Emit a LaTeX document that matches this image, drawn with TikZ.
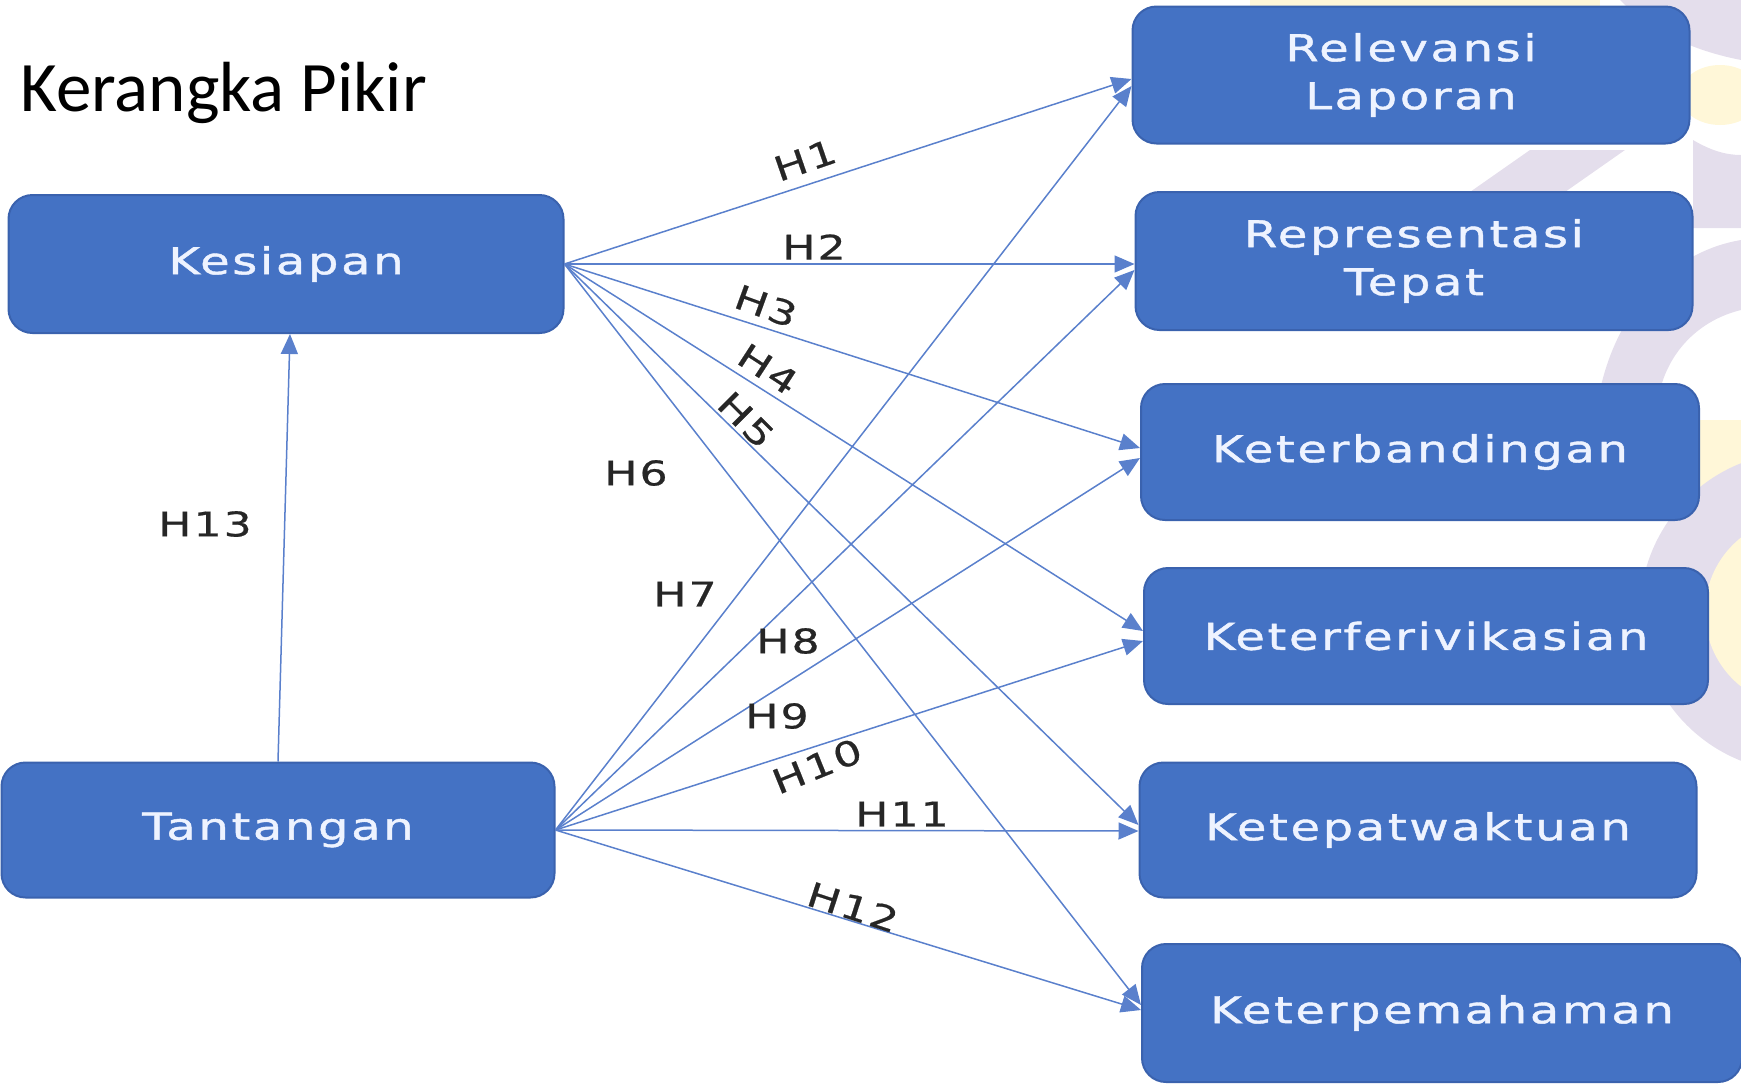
\documentclass[tikz,border=0pt]{standalone}
\usepackage{fontspec}
\usetikzlibrary{arrows.meta,calc}
\newfontfamily\boxfont{DejaVu Sans}[FakeStretch=1.3,LetterSpace=7,FakeBold=1.2]
\newfontfamily\labfont{DejaVu Sans}[FakeStretch=1.3,LetterSpace=6,FakeBold=0.6]
\newfontfamily\titlefont{Carlito}
\definecolor{boxblue}{HTML}{4472C4}
\definecolor{boxedge}{HTML}{3A62AE}
\definecolor{linkblue}{HTML}{5A80CC}
\definecolor{boxtext}{HTML}{EEF3FF}
\definecolor{wmpurple}{HTML}{E4DEEC}
\definecolor{wmyellow}{HTML}{FFF7D8}
\definecolor{labelgray}{HTML}{262626}
\begin{document}
\begin{tikzpicture}[x=0.5pt,y=-0.5pt,
  varbox/.style={draw=boxedge, line width=1pt, fill=boxblue, rounded corners=12pt,
    text=boxtext, font=\boxfont\fontsize{18.5}{24}\selectfont, align=center, inner sep=0pt},
  link/.style={draw=linkblue, line width=0.75pt, -{Triangle[length=10pt,width=8.5pt]}},
  hlab/.style={font=\labfont\fontsize{17}{20}\selectfont, text=labelgray, inner sep=1pt}]
\useasboundingbox (0,0) rectangle (1741,1083);
% faint watermark
\fill[wmyellow] (1250,0) rectangle (1600,10);
\fill[wmpurple] (1620,0) -- (1741,0) -- (1741,60) .. controls (1690,50) and (1650,30) .. (1620,0) -- cycle;
\fill[wmyellow] (1720,95) ellipse (40 and 30);
\fill[wmpurple] (1693,140) .. controls (1710,150) and (1725,155) .. (1741,155) -- (1741,228) -- (1693,228) -- cycle;
\fill[wmpurple] (1470,192) -- (1530,150) -- (1625,150) -- (1565,192) -- cycle;
\fill[wmpurple] (1600,390) .. controls (1620,300) and (1680,250) .. (1741,240) -- (1741,310) .. controls (1700,320) and (1670,350) .. (1660,390) -- cycle;
\fill[wmyellow] (1699,420) rectangle (1741,520);
\fill[wmpurple] (1800,612) circle (160);
\fill[wmyellow] (1800,612) circle (95);
% title
\node[font=\titlefont\fontsize{35.5}{40}\selectfont, anchor=base west, inner sep=0pt] (title) at (20,111) {Kerangka Pikir};
% boxes
\node[varbox, minimum width=277.5pt, minimum height=69pt] (kes) at (286,264) {Kesiapan};
\node[varbox, minimum width=276.5pt, minimum height=67.5pt] (tan) at (278,830) {Tantangan};
\node[varbox, minimum width=278.5pt, minimum height=68.5pt] (rel) at (1411,75) {Relevansi\\Laporan};
\node[varbox, minimum width=278.5pt, minimum height=69pt] (rep) at (1414,261) {Representasi\\Tepat};
\node[varbox, minimum width=279pt, minimum height=68pt] (kb) at (1420,452) {Keterbandingan};
\node[varbox, minimum width=282pt, minimum height=68pt] (kf) at (1426,636) {Keterferivikasian};
\node[varbox, minimum width=278.5pt, minimum height=67.5pt] (kw) at (1418,830) {Ketepatwaktuan};
\node[varbox, minimum width=300pt, minimum height=69pt] (kp) at (1442,1013) {Keterpemahaman};
% links from Kesiapan
\draw[link] (kes.east) -- ($(rel.west)+(0,4)$);
\draw[link] (kes.east) -- ($(rep.west)+(0,3)$);
\draw[link] (kes.east) -- ($(kb.west)+(0,-4)$);
\draw[link] (kes.east) -- ($(kf.west)+(0,-5)$);
\draw[link] (kes.east) -- ($(kw.west)+(0,-5)$);
\draw[link] (kes.east) -- ($(kp.west)+(0,-8)$);
% links from Tantangan
\draw[link] (tan.east) -- ($(rel.west)+(0,11)$);
\draw[link] (tan.east) -- ($(rep.west)+(0,9)$);
\draw[link] (tan.east) -- ($(kb.west)+(0,6)$);
\draw[link] (tan.east) -- ($(kf.west)+(0,5)$);
\draw[link] (tan.east) -- ($(kw.west)+(0,1)$);
\draw[link] (tan.east) -- ($(kp.west)+(0,-3)$);
\draw[link] (tan.north) -- ($(kes.south)+(4,0)$);
% labels
\node[hlab, rotate=19] (h1) at (805,160) {H1};
\node[hlab] (h2) at (814,247) {H2};
\node[hlab, rotate=-20] (h3) at (766,306) {H3};
\node[hlab, rotate=-33] (h4) at (768,369) {H4};
\node[hlab, rotate=-45] (h5) at (746,420) {H5};
\node[hlab] (h6) at (636,473) {H6};
\node[hlab] (h7) at (685,594) {H7};
\node[hlab] (h8) at (788,641) {H8};
\node[hlab] (h9) at (777,716) {H9};
\node[hlab, rotate=22] (h10) at (817,766) {H10};
\node[hlab] (h11) at (902,814) {H11};
\node[hlab, rotate=-18] (h12) at (853,907) {H12};
\node[hlab] (h13) at (205,524) {H13};
\end{tikzpicture}
\end{document}
